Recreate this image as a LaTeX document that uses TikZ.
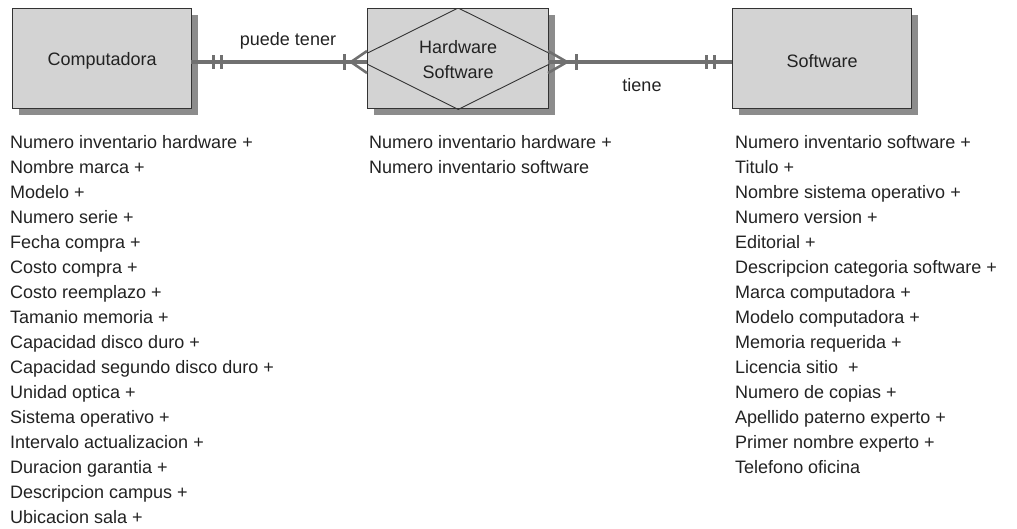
\documentclass[tikz,border=0pt]{standalone}
\usepackage{fontspec}
\setmainfont{Liberation Sans}
\usetikzlibrary{calc}
\begin{document}
\begin{tikzpicture}[x=1pt,y=-1pt,
  ent/.style={fill=boxc,draw=edgec,line width=1.4pt},
  shad/.style={fill=shadc},
  rel/.style={draw=linec,line width=3.4pt},
  tick/.style={draw=linec,line width=3pt},
  lbl/.style={text=txtc,inner sep=0pt,font=\fontsize{18}{25}\selectfont},
  attr/.style={text=txtc,inner sep=0pt,align=left,anchor=north west,font=\fontsize{18}{25}\selectfont}]
\definecolor{boxc}{HTML}{D3D3D3}
\definecolor{edgec}{HTML}{333333}
\definecolor{shadc}{HTML}{8C8C8C}
\definecolor{linec}{HTML}{707070}
\definecolor{txtc}{HTML}{222222}
\useasboundingbox (0,0) rectangle (1017,528);
% shadows
\fill[shad] (19,15) rectangle (198,115);
\fill[shad] (374,15) rectangle (555,115);
\fill[shad] (739,15) rectangle (918,115);
% entity boxes
\node[ent,minimum width=179pt,minimum height=100pt,inner sep=0pt,anchor=north west] (comp) at (12,8) {};
\node[ent,minimum width=181pt,minimum height=100pt,inner sep=0pt,anchor=north west] (hs) at (367,8) {};
\node[ent,minimum width=179pt,minimum height=100pt,inner sep=0pt,anchor=north west] (soft) at (732,8) {};
\begin{scope}
\clip (hs.south west) rectangle (hs.north east);
\draw[line width=0.9pt,edgec] (hs.north) -- ($(hs.center)+(-102,0)$) -- (hs.south) -- ($(hs.center)+(102,0)$) -- cycle;
\end{scope}
\node[lbl] (compt) at ($(comp.center)+(0,2)$) {Computadora};
\node[lbl,align=center] (hst) at ($(hs.center)+(0,1)$) {Hardware\\Software};
\node[lbl] (softt) at ($(soft.center)+(0,2)$) {Software};
% connectors
\coordinate (l1) at (191,62);
\coordinate (l2) at (367,62);
\coordinate (r1) at (548,62);
\coordinate (r2) at (732,62);
\draw[rel] (l1) -- (l2);
\draw[rel] (r1) -- (r2);
% Computadora side: two bars
\draw[tick] (213,55) -- (213,69);
\draw[tick] (221,55) -- (221,69);
% Hardware side left: bar + crow foot
\draw[tick] (344,54) -- (344,70);
\draw[rel,line width=2.6pt] (367,51) -- (351,62) -- (367,73);
% Hardware side right: crow foot + bar
\draw[rel,line width=2.6pt] (548,51) -- (567,62) -- (548,73);
\draw[tick] (576,54) -- (576,70);
% Software side: two bars
\draw[tick] (706,55) -- (706,69);
\draw[tick] (714,55) -- (714,69);
\node[lbl] (pt) at (288,41) {puede tener};
\node[lbl] (ti) at (642,85) {tiene};
% attributes
\node[attr] (a1) at (10,135) {Numero inventario hardware +\\Nombre marca +\\Modelo +\\Numero serie +\\Fecha compra +\\Costo compra +\\Costo reemplazo +\\Tamanio memoria +\\Capacidad disco duro +\\Capacidad segundo disco duro +\\Unidad optica +\\Sistema operativo +\\Intervalo actualizacion +\\Duracion garantia +\\Descripcion campus +\\Ubicacion sala +};
\node[attr] (a2) at (369,135) {Numero inventario hardware +\\Numero inventario software};
\node[attr] (a3) at (735,135) {Numero inventario software +\\Titulo +\\Nombre sistema operativo +\\Numero version +\\Editorial +\\Descripcion categoria software +\\Marca computadora +\\Modelo computadora +\\Memoria requerida +\\Licencia sitio~ +\\Numero de copias +\\Apellido paterno experto +\\Primer nombre experto +\\Telefono oficina};
\end{tikzpicture}
\end{document}
